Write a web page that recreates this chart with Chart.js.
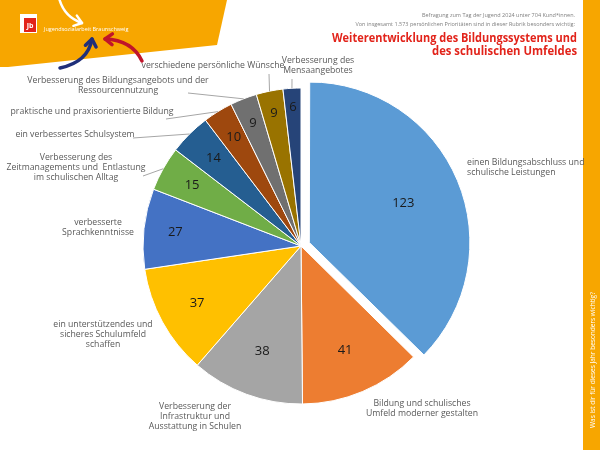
<!DOCTYPE html>
<html lang="de">
<head>
<meta charset="utf-8">
<title>Weiterentwicklung des Bildungssystems</title>
<script src="https://cdn.jsdelivr.net/npm/chart.js@4.4.1/dist/chart.umd.min.js"></script>
<style>
  html, body { margin: 0; padding: 0; background: #ffffff; }
  #wrap { position: relative; width: 600px; height: 450px; overflow: hidden; }
</style>
</head>
<body>
<div id="wrap"><canvas id="chart" width="600" height="450"></canvas></div>
<script>
  "use strict";

  // Daten
  var categories = [
    ["einen Bildungsabschluss und", "schulische Leistungen"],
    ["Bildung und schulisches", "Umfeld moderner gestalten"],
    ["Verbesserung der", "Infrastruktur und", "Ausstattung in Schulen"],
    ["ein unterstützendes und", "sicheres Schulumfeld", "schaffen"],
    ["verbesserte", "Sprachkenntnisse"],
    ["Verbesserung des", "Zeitmanagements und  Entlastung", "im schulischen Alltag"],
    ["ein verbessertes Schulsystem"],
    ["praktische und praxisorientierte Bildung"],
    ["Verbesserung des Bildungsangebots und der", "Ressourcennutzung"],
    ["verschiedene persönliche Wünsche"],
    ["Verbesserung des", "Mensaangebotes"]
  ];
  var values = [123, 41, 38, 37, 27, 15, 14, 10, 9, 9, 6];
  var sliceColors = [
    "#5B9BD5", "#ED7D31", "#A5A5A5", "#FFC000", "#4472C4", "#70AD47",
    "#255E91", "#9E480E", "#707070", "#997300", "#264478"
  ];
  var titleLines = ["Weiterentwicklung des Bildungssystems und", "des schulischen Umfeldes"];
  var surveyNotes = [
    "Befragung zum Tag der Jugend 2024 unter 704 Kund*innen.",
    "Von insgesamt 1.573 persönlichen Prioritäten sind in dieser Rubrik besonders wichtig:"
  ];
  var sideText = "Was ist dir für dieses Jahr besonders wichtig?";
  var brandText = "Jugendsozialarbeit Braunschweig";

  // Lage der Beschriftungen (Mitte der ersten Zeile, Ende der Führungslinie)
  var labelLayout = [
    { x: 467, y: 163, align: "left" },
    { x: 422, y: 404, align: "center" },
    { x: 195, y: 407, align: "center" },
    { x: 103, y: 325, align: "center" },
    { x: 98, y: 223, align: "center" },
    { x: 76, y: 158, align: "center", lineTo: [143, 176] },
    { x: 75, y: 135, align: "center", lineTo: [133, 138] },
    { x: 92, y: 112, align: "center", lineTo: [166, 119] },
    { x: 118, y: 81, align: "center", lineTo: [188, 93] },
    { x: 213, y: 66, align: "center", lineTo: [269, 74] },
    { x: 318, y: 61, align: "center", lineTo: [292, 79] }
  ];
  // Abstand der Zahlen vom Mittelpunkt (Anteil am Radius)
  var valueRadius = [0.645, 0.715, 0.71, 0.75, 0.8, 0.79, 0.785, 0.81, 0.835, 0.86, 0.88];

  var ORANGE = "#F7A600";
  var LABEL_FONT = "'Open Sans', 'Noto Sans', sans-serif";

  function arrowHead(ctx, x, y, angle, size) {
    ctx.beginPath();
    ctx.moveTo(x + Math.cos(angle + 2.5) * size, y + Math.sin(angle + 2.5) * size);
    ctx.lineTo(x, y);
    ctx.lineTo(x + Math.cos(angle - 2.5) * size, y + Math.sin(angle - 2.5) * size);
    ctx.stroke();
  }

  function drawArrow(ctx, color, p0, c, p1, width) {
    ctx.save();
    ctx.strokeStyle = color;
    ctx.lineWidth = width;
    ctx.lineCap = "round";
    ctx.lineJoin = "round";
    ctx.beginPath();
    ctx.moveTo(p0[0], p0[1]);
    ctx.quadraticCurveTo(c[0], c[1], p1[0], p1[1]);
    ctx.stroke();
    var ang = Math.atan2(p1[1] - c[1], p1[0] - c[0]);
    arrowHead(ctx, p1[0], p1[1], ang, 9);
    ctx.restore();
  }

  // Kopfbereich, Pfeile, Seitenleiste und Titel
  var decorPlugin = {
    id: "decor",
    beforeDraw: function (chart) {
      var ctx = chart.ctx;
      ctx.save();

      ctx.fillStyle = ORANGE;
      ctx.beginPath();
      ctx.moveTo(0, 0);
      ctx.lineTo(227, 0);
      ctx.lineTo(217, 45);
      ctx.lineTo(8, 67);
      ctx.lineTo(0, 67);
      ctx.closePath();
      ctx.fill();

      ctx.fillRect(583, 0, 17, 450);

      // Logo
      ctx.fillStyle = "#ffffff";
      ctx.fillRect(20, 14, 17, 19);
      ctx.fillStyle = "#E2241B";
      ctx.fillRect(24, 18, 12, 14);
      ctx.fillStyle = "#ffffff";
      ctx.font = "bold 7px " + LABEL_FONT;
      ctx.textAlign = "center";
      ctx.textBaseline = "middle";
      ctx.fillText("Jb", 30, 26);

      ctx.font = "5.5px " + LABEL_FONT;
      ctx.textAlign = "left";
      ctx.fillText(brandText, 44, 29, 88);

      drawArrow(ctx, "#ffffff", [59, -2], [64, 17], [82, 23], 2.5);
      drawArrow(ctx, "#1F2F7A", [60, 68], [88, 62], [92, 39], 3.5);
      drawArrow(ctx, "#C0152A", [142, 61], [132, 40], [105, 39], 3.5);

      // Texte rechts oben
      ctx.fillStyle = "#7F7F7F";
      ctx.font = "5.5px " + LABEL_FONT;
      ctx.textAlign = "right";
      ctx.fillText(surveyNotes[0], 575, 15, 158);
      ctx.fillText(surveyNotes[1], 575, 24, 224);

      ctx.fillStyle = "#E2241B";
      ctx.font = "bold 13px " + LABEL_FONT;
      ctx.fillText(titleLines[0], 577, 38, 245);
      ctx.fillText(titleLines[1], 577, 51, 145);

      // Seitenleiste
      ctx.save();
      ctx.translate(593, 360);
      ctx.rotate(-Math.PI / 2);
      ctx.fillStyle = "#ffffff";
      ctx.font = "6.5px " + LABEL_FONT;
      ctx.textAlign = "center";
      ctx.fillText(sideText, 0, 0, 142);
      ctx.restore();

      ctx.restore();
    },

    afterDatasetsDraw: function (chart) {
      var ctx = chart.ctx;
      var meta = chart.getDatasetMeta(0);
      var ds = chart.data.datasets[0];
      ctx.save();
      ctx.textBaseline = "middle";

      meta.data.forEach(function (arc, i) {
        var p = arc.getProps(["x", "y", "startAngle", "endAngle", "outerRadius"], true);
        var mid = (p.startAngle + p.endAngle) / 2;
        var shift = (ds.offset[i] || 0) / 4;
        var cx = p.x + Math.cos(mid) * shift;
        var cy = p.y + Math.sin(mid) * shift;

        // Zahl in der Scheibe
        var r = p.outerRadius * valueRadius[i];
        ctx.fillStyle = "#1A1A1A";
        ctx.font = "13px " + LABEL_FONT;
        ctx.textAlign = "center";
        ctx.fillText(String(ds.data[i]), cx + Math.cos(mid) * r, cy + Math.sin(mid) * r);

        // Führungslinie
        var lay = labelLayout[i];
        if (lay.lineTo) {
          ctx.strokeStyle = "#A6A6A6";
          ctx.lineWidth = 1;
          ctx.beginPath();
          ctx.moveTo(cx + Math.cos(mid) * p.outerRadius, cy + Math.sin(mid) * p.outerRadius);
          ctx.lineTo(lay.lineTo[0], lay.lineTo[1]);
          ctx.stroke();
        }

        // Kategorie
        ctx.fillStyle = "#595959";
        ctx.font = "8.7px " + LABEL_FONT;
        ctx.textAlign = lay.align;
        chart.data.labels[i].forEach(function (line, k) {
          ctx.fillText(line, lay.x, lay.y + k * 10);
        });
      });

      ctx.restore();
    }
  };

  var offsets = values.map(function (v, i) { return i === 0 ? 36 : 0; });

  new Chart(document.getElementById("chart"), {
    type: "pie",
    data: {
      labels: categories,
      datasets: [{
        data: values,
        backgroundColor: sliceColors,
        borderColor: "#ffffff",
        borderWidth: 1,
        offset: offsets,
        hoverOffset: 0,
        radius: 158
      }]
    },
    options: {
      responsive: false,
      animation: false,
      events: [],
      layout: { padding: { left: 138, right: 136, top: 83, bottom: 41 } },
      plugins: {
        legend: { display: false },
        tooltip: { enabled: false },
        title: { display: false }
      }
    },
    plugins: [decorPlugin]
  });
</script>
</body>
</html>
